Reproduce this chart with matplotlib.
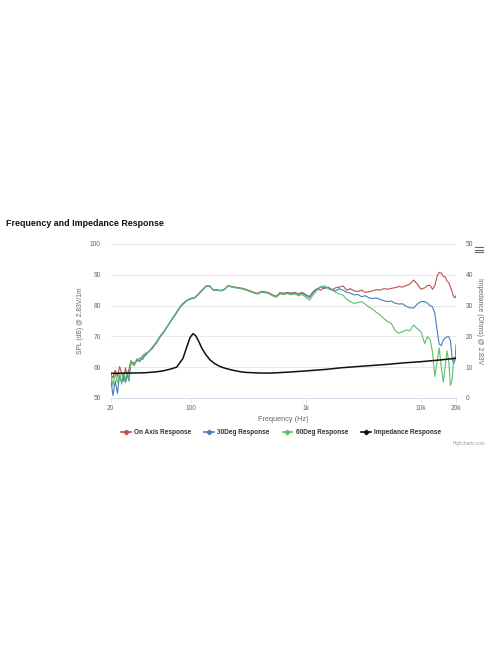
import numpy as np
import matplotlib
matplotlib.use("Agg")
import matplotlib.pyplot as plt
from matplotlib.lines import Line2D

plt.rcParams["font.family"] = ["Liberation Sans", "DejaVu Sans"]

title = "Frequency and Impedance Response"
series_names = ["On Axis Response", "30Deg Response", "60Deg Response", "Impedance Response"]
series_colors = ["#c0504d", "#4a7cc0", "#5cbf6a", "#111111"]

freq = [20, 21, 22, 23, 24, 25, 26, 27, 28, 29, 30, 32, 34, 36, 38, 40, 43, 46, 50, 54,
        58, 63, 68, 74, 80, 86, 93, 100, 108, 116, 125, 135, 145, 156, 168, 181, 195, 210, 226, 243,
        262, 282, 304, 327, 352, 379, 408, 440, 474, 510, 550, 592, 638, 687, 740, 797, 858, 924, 995, 1070,
        1150, 1240, 1340, 1440, 1550, 1670, 1800, 1940, 2090, 2250, 2420, 2610, 2810, 3030, 3260, 3510, 3780, 4070, 4390, 4730,
        5090, 5480, 5900, 6360, 6850, 7380, 7950, 8560, 9220, 9930, 10700, 11300, 11900, 12500, 13100, 13700, 14300, 14900, 15500, 16100,
        16700, 17300, 17900, 18500, 19100, 19700, 20000]

on_axis = [58.0, 56.5, 59.0, 57.0, 60.2, 58.0, 55.5, 59.8, 57.0, 59.5, 62.0, 60.5, 62.5, 61.8, 63.5, 63.8, 65.2, 66.0, 68.0, 70.0,
           71.5, 73.5, 75.5, 77.5, 79.5, 80.8, 81.8, 82.3, 82.6, 83.8, 85.0, 86.3, 86.4, 85.1, 85.2, 84.9, 85.3, 86.5, 86.2, 86.0,
           85.8, 85.6, 85.2, 84.8, 84.3, 84.0, 84.6, 84.5, 84.2, 83.5, 83.0, 84.2, 84.0, 84.3, 84.0, 84.3, 83.8, 84.3, 83.5, 83.0,
           84.5, 85.5, 85.0, 86.0, 85.8, 85.0, 85.8, 86.0, 86.4, 85.0, 85.5, 84.8, 84.6, 85.0, 84.3, 84.5, 84.8, 85.2, 85.0, 85.5,
           85.3, 85.6, 85.8, 86.2, 86.0, 86.5, 87.0, 88.3, 87.0, 85.3, 85.8, 86.5, 86.6, 85.3, 86.5, 89.5, 90.8, 90.5, 89.5, 89.3,
           88.0, 87.5, 86.0, 84.5, 82.8, 82.6, 83.2]

deg30 = [57.0, 50.8, 55.5, 51.5, 57.5, 55.0, 58.0, 55.0, 57.5, 55.5, 61.0, 61.5, 62.0, 63.0, 62.5, 64.0, 65.0, 66.3, 67.8, 69.8,
         71.3, 73.5, 75.3, 77.3, 79.3, 80.6, 81.7, 82.2, 82.5, 83.6, 84.9, 86.2, 86.3, 85.0, 85.0, 84.8, 85.2, 86.4, 86.0, 85.8,
         85.6, 85.4, 85.0, 84.6, 84.1, 83.8, 84.4, 84.3, 84.0, 83.3, 82.9, 84.0, 83.8, 84.1, 83.8, 84.1, 83.6, 84.1, 83.2, 82.6,
         84.3, 85.3, 86.2, 85.5, 86.0, 85.3, 84.8, 85.5, 85.0, 84.3, 84.0, 83.5, 83.6, 82.9, 83.2, 82.5, 82.3, 82.5, 82.0, 81.6,
         81.3, 81.5, 80.8, 80.5, 80.6, 79.8, 79.3, 79.2, 80.5, 81.3, 81.3, 80.8, 80.0, 79.6, 77.5, 72.0, 67.5, 67.0, 68.8, 69.5,
         69.8, 69.9, 68.5, 63.0, 61.2, 62.5, 67.2]

deg60 = [58.5, 54.0, 58.0, 55.0, 58.0, 54.5, 58.2, 56.0, 58.5, 56.0, 62.3, 60.8, 62.8, 62.0, 63.8, 64.5, 65.0, 66.5, 68.2, 70.2,
         71.6, 73.6, 75.6, 77.6, 79.6, 80.9, 81.9, 82.4, 82.7, 83.9, 85.1, 86.4, 86.5, 85.1, 85.1, 84.8, 85.2, 86.4, 86.1, 85.9,
         85.6, 85.4, 85.0, 84.6, 84.1, 83.8, 84.3, 84.2, 83.9, 83.2, 82.7, 83.8, 83.6, 83.9, 83.5, 83.8, 83.2, 83.6, 82.6, 81.8,
         83.5, 85.0, 86.0, 86.5, 85.5, 85.1, 84.3, 83.8, 83.4, 82.0, 81.3, 80.7, 81.0, 81.3, 80.5, 79.5, 78.8, 77.8, 77.0, 75.8,
         74.8, 74.2, 72.0, 71.0, 71.5, 72.1, 71.8, 73.7, 72.5, 71.5, 67.7, 69.9, 69.0, 65.0, 57.0, 62.0, 66.2, 60.0, 55.2, 60.0,
         65.3, 62.0, 54.0, 56.0, 62.9, 63.5, 63.9]

imp_freq = [20, 30, 40, 50, 57, 65, 75, 85, 92, 98, 104, 110, 117, 124, 135, 146, 160, 179, 200, 232,
            270, 304, 400, 500, 700, 1000, 1500, 2000, 3000, 5000, 7000, 10000, 15000, 20000]
impedance = [8.0, 8.1, 8.2, 8.5, 8.8, 9.3, 10.0, 12.8, 16.6, 19.6, 20.9, 20.2, 18.3, 16.2, 14.0, 12.4, 11.2, 10.2, 9.6, 9.0,
             8.5, 8.3, 8.1, 8.1, 8.4, 8.8, 9.3, 9.8, 10.3, 10.9, 11.4, 11.8, 12.4, 12.9]

x_ticks = [20, 100, 1000, 10000, 20000]
x_ticklabels = ["20", "100", "1k", "10k", "20k"]
spl_ticks = [50, 60, 70, 80, 90, 100]
imp_ticks = [0, 10, 20, 30, 40, 50]

assert len(freq) == len(on_axis) == len(deg30) == len(deg60)

W, H = 496, 664
fig = plt.figure(figsize=(W / 100, H / 100), dpi=100)
fig.patch.set_facecolor("white")

left, right, top, bottom = 110.5, 456, 244, 398
ax = fig.add_axes([left / W, 1 - bottom / H, (right - left) / W, (bottom - top) / H])
ax.set_xscale("log")
ax.set_xlim(20, 20000)
ax.set_ylim(50, 100)
ax.set_facecolor("white")

tick_color = "#666666"
ax.set_yticks(spl_ticks)
ax.set_yticklabels([str(t) for t in spl_ticks], fontsize=4.8, color=tick_color)
ax.set_xticks(x_ticks)
ax.set_xticklabels(x_ticklabels, fontsize=4.8, color=tick_color)
ax.xaxis.set_minor_locator(matplotlib.ticker.NullLocator())
ax.tick_params(axis="y", length=0, pad=7)
ax.tick_params(axis="x", length=3, width=0.5, color="#ccd6eb", pad=2)
ax.grid(axis="y", color="#e6e6e6", linewidth=0.6)
ax.set_axisbelow(True)
for s in ["top", "left", "right"]:
    ax.spines[s].set_visible(False)
ax.spines["bottom"].set_color("#ccd6eb")
ax.spines["bottom"].set_linewidth(0.6)

ax.set_ylabel("SPL (dB) @ 2.83V/1m", fontsize=4.9, color=tick_color, labelpad=4)
ax.set_xlabel("Frequency (Hz)", fontsize=5.3, color=tick_color, labelpad=3)

ax.plot(freq, on_axis, color=series_colors[0], lw=0.8, zorder=3)
ax.plot(freq, deg30, color=series_colors[1], lw=0.8, zorder=4)
ax.plot(freq, deg60, color=series_colors[2], lw=0.8, zorder=5)

ax2 = ax.twinx()
ax2.set_ylim(0, 50)
ax2.set_yticks(imp_ticks)
ax2.set_yticklabels([str(t) for t in imp_ticks], fontsize=4.8, color=tick_color)
ax2.tick_params(axis="y", length=0, pad=7)
for s in ["top", "left", "right", "bottom"]:
    ax2.spines[s].set_visible(False)
ax2.set_ylabel("Impedance (Ohms) @ 2.83V", fontsize=4.9, color=tick_color, rotation=270, labelpad=7)
ax2.plot(imp_freq, impedance, color=series_colors[3], lw=1.1, zorder=6)

fig.text(6 / W, 1 - 224 / H, title, fontsize=6.4, fontweight="bold", color="#111111",
         va="center", ha="left")

handles = [Line2D([0], [0], color=c, lw=1.2, marker="D", markersize=2.3) for c in series_colors]
leg = fig.legend(handles, series_names, loc="center", bbox_to_anchor=(281 / W, 1 - 433 / H),
                 ncol=4, frameon=False, handlelength=1.5, handletextpad=0.5,
                 columnspacing=2.0, prop={"weight": "bold", "size": 4.7})
for t in leg.get_texts():
    t.set_color("#333333")

fig.text(485 / W, 1 - 443 / H, "Highcharts.com", fontsize=3.3, color="#999999", ha="right", va="center")

for dy in (-3, 0, 3):
    y = 1 - (249.5 + dy) / H
    fig.add_artist(Line2D([475 / W, 483 / W], [y, y], color="#666666", lw=0.8))

fig.savefig("out.png", dpi=100, facecolor="white")
